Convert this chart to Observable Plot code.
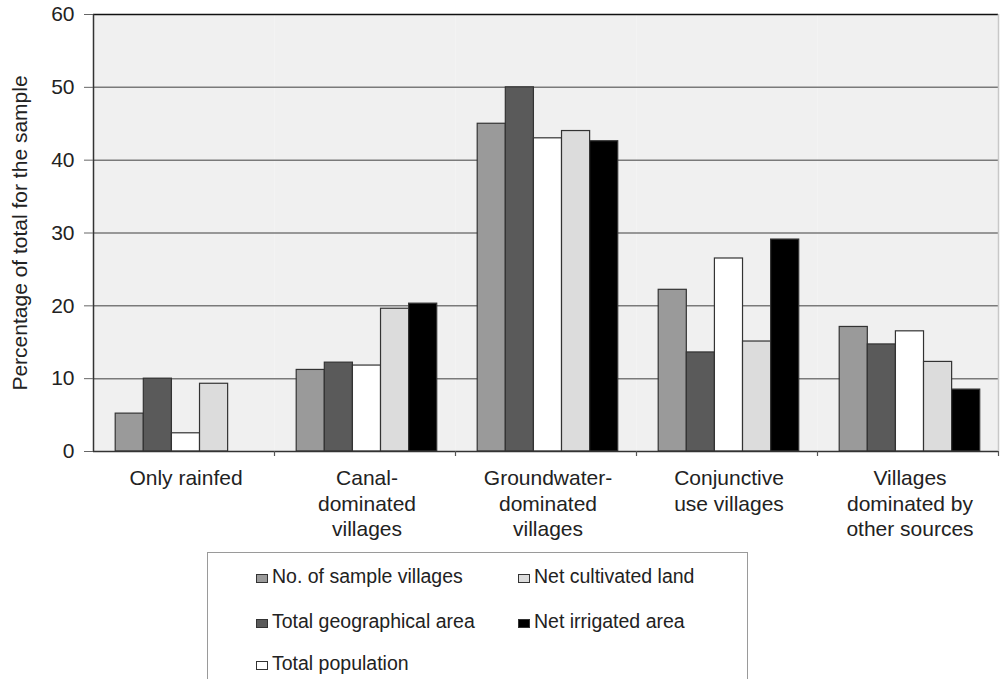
<!DOCTYPE html>
<html><head><meta charset="utf-8">
<script src="https://cdn.jsdelivr.net/npm/d3@7"></script>
<script src="https://cdn.jsdelivr.net/npm/@observablehq/plot@0.6"></script>
<style>
body{margin:0;background:#fff;font-family:"Liberation Sans",Arial,sans-serif;}
#wrap{position:relative;width:1005px;height:679px;overflow:hidden;}
#legend{position:absolute;left:207px;top:552px;width:541px;height:200px;border:1.5px solid #9a9a9a;box-sizing:border-box;background:#fff}
.item{position:absolute;font-size:19.5px;color:#222;white-space:nowrap;line-height:22px}
.sw{display:inline-block;width:10px;height:7px;border:1px solid #333;margin-right:4px}
</style></head><body><div id="wrap"><div id="chart"></div><div id="legend"></div></div>
<script>
const categories = ["Only rainfed", "Canal-dominated villages", "Groundwater-dominated villages", "Conjunctive use villages", "Villages dominated by other sources"];
const categoryLabels = ["Only rainfed", "Canal-\ndominated\nvillages", "Groundwater-\ndominated\nvillages", "Conjunctive\nuse villages", "Villages\ndominated by\nother sources"];
const series = ["No. of sample villages", "Total geographical area", "Total population", "Net cultivated land", "Net irrigated area"];
const sampleVillages = [5.2, 11.2, 45.0, 22.2, 17.1];
const geographicalArea = [10.0, 12.2, 50.0, 13.6, 14.7];
const totalPopulation = [2.5, 11.8, 43.0, 26.5, 16.5];
const netCultivated = [9.3, 19.6, 44.0, 15.1, 12.3];
const netIrrigated = [0, 20.3, 42.6, 29.1, 8.5];
const seriesColors = ["#9a9a9a", "#5a5a5a", "#ffffff", "#dcdcdc", "#000000"];
const yTicks = [0, 10, 20, 30, 40, 50, 60];
const yLabel = "Percentage of total for the sample";

const valuesBySeries = [sampleVillages, geographicalArea, totalPopulation, netCultivated, netIrrigated];
const rows = [];
categories.forEach((c, ci) => series.forEach((s, si) => rows.push({category: c, series: s, si, value: valuesBySeries[si][ci]})));

const xDomain = [-0.79, 5.65];
const first = categories[0], last = categories[categories.length - 1];
const font = '"Liberation Sans", Arial, sans-serif';

const chart = Plot.plot({
  width: 1005, height: 550,
  marginLeft: 91, marginRight: 6, marginTop: 14, marginBottom: 99,
  style: {fontFamily: font, fontSize: "21px", color: "#222", background: "transparent"},
  fx: {domain: categories, padding: 0, axis: null},
  x: {domain: xDomain, axis: null},
  y: {domain: [0, 60], axis: null},
  color: {domain: series, range: seriesColors},
  marks: [
    Plot.frame({fill: "#f0f0f0", stroke: null}),
    Plot.gridY(yTicks.filter(t => t > 0 && t < 60), {stroke: "#7a7a7a", strokeOpacity: 1, strokeWidth: 1.5}),
    Plot.ruleY([60], {stroke: "#111", strokeWidth: 1.5}),
    Plot.rectY(rows, {fx: "category", x1: "si", x2: d => d.si + 1, y: "value", fill: "series", stroke: "#333", strokeWidth: 1.2}),
    Plot.ruleY([0], {stroke: "#333", strokeWidth: 1.5}),
    Plot.ruleX([first], {fx: d => d, x: xDomain[0], y1: 0, y2: 60, stroke: "#333", strokeWidth: 1.5}),
    Plot.ruleX([last], {fx: d => d, x: xDomain[1], y1: 0, y2: 60, stroke: "#c8c8c8", strokeWidth: 1.5}),
    Plot.ruleX(categories.slice(1), {fx: d => d, x: xDomain[0], y1: 0, y2: 0, insetBottom: -5, stroke: "#555", strokeWidth: 1.2}),
    Plot.ruleX([last], {fx: d => d, x: xDomain[1], y1: 0, y2: 0, insetBottom: -5, stroke: "#555", strokeWidth: 1.2}),
    Plot.axisY({ticks: yTicks, tickSize: 9, tickPadding: 10, stroke: "#666", fill: "#222", fontSize: 21,
      label: yLabel, labelAnchor: "center", labelOffset: 81, labelArrow: false}),
    Plot.axisFx({anchor: "bottom", tickSize: 0, tickPadding: 16, fill: "#222", fontSize: 21, lineHeight: 1.2, dx: 2,
      tickFormat: d => categoryLabels[categories.indexOf(d)], label: null})
  ]
});
document.getElementById("chart").appendChild(chart);

const legend = document.getElementById("legend");
const colLeft = [48, 310];
const rowTop = [12, 57, 99];
series.forEach((s, i) => {
  const item = document.createElement("div");
  item.className = "item";
  item.style.left = colLeft[Math.floor(i / 3)] + "px";
  item.style.top = rowTop[i % 3] + "px";
  const sw = document.createElement("span");
  sw.className = "sw";
  sw.style.background = seriesColors[i];
  item.appendChild(sw);
  item.appendChild(document.createTextNode(s));
  legend.appendChild(item);
});
</script></body></html>
